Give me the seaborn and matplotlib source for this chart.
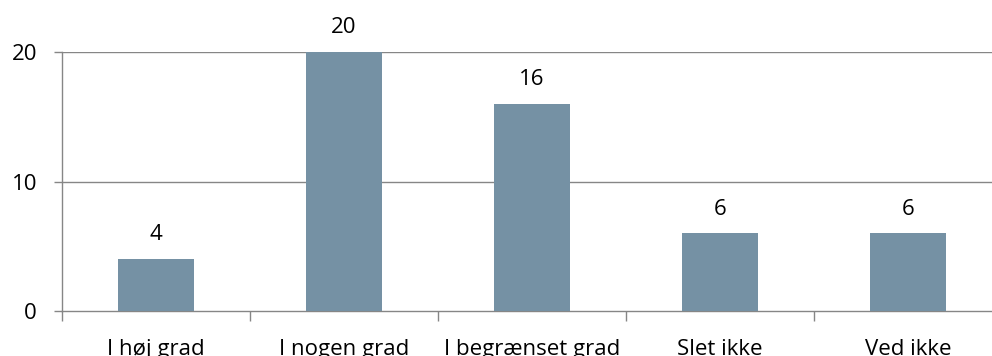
import matplotlib
matplotlib.use("Agg")
import matplotlib.pyplot as plt
import seaborn as sns
import pandas as pd
import numpy as np

categories = ["I høj grad", "I nogen grad", "I begrænset grad", "Slet ikke", "Ved ikke"]
values = [4, 20, 16, 6, 6]
y_ticks = [0, 10, 20]

sns.set_theme(style="white")
plt.rcParams['font.family'] = ['Open Sans', 'DejaVu Sans']

df = pd.DataFrame({"cat": categories, "val": values})

W, H = 992, 356
fig = plt.figure(figsize=(W / 100, H / 100), dpi=100)
ax = fig.add_axes([62 / W, 1 - 311 / H, (1002 - 62) / W, (311 - 52) / H])

grid_c = "#868686"
bar_c = "#7591A4"
fs = 16

sns.barplot(data=df, x="cat", y="val", color=bar_c, saturation=1, width=0.4,
            linewidth=0, ax=ax, zorder=3)

ax.set_ylim(0, 20)
ax.set_xlim(-0.5, 4.5)
ax.set_yticks(y_ticks)
ax.set_yticklabels([str(t) for t in y_ticks])
ax.set_xlabel("")
ax.set_ylabel("")

for s in ["top", "right"]:
    ax.spines[s].set_visible(False)
for s in ["left", "bottom"]:
    ax.spines[s].set_color(grid_c)
    ax.spines[s].set_linewidth(1.0)

for t in y_ticks[1:]:
    ax.axhline(t, color=grid_c, lw=1.0, zorder=1)

ax.tick_params(axis="y", which="major", length=6, width=1, color=grid_c,
               direction="out", pad=12, labelsize=fs, labelcolor="black", left=True)
ax.set_xticks(np.arange(-0.5, 5.0, 1.0), minor=True)
ax.tick_params(axis="x", which="major", length=0, pad=20, labelsize=fs, labelcolor="black")
ax.tick_params(axis="x", which="minor", length=7, width=1, color=grid_c, direction="out", bottom=True)

for i, v in enumerate(values):
    ax.annotate(str(v), xy=(i, v), xytext=(0, 13.5), textcoords="offset points",
                ha="center", va="baseline", fontsize=fs, color="black",
                annotation_clip=False)

fig.savefig("out.png", dpi=100)
